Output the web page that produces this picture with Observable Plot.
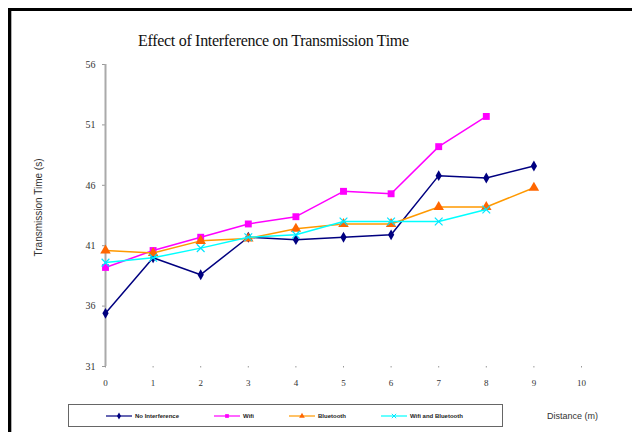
<!DOCTYPE html>
<html>
<head>
<meta charset="utf-8">
<script src="https://cdn.jsdelivr.net/npm/d3@7"></script>
<script src="https://cdn.jsdelivr.net/npm/@observablehq/plot@0.6"></script>
<style>
  html, body { margin: 0; padding: 0; background: #fff; }
  #wrap { position: relative; width: 632px; height: 432px; overflow: hidden; }
  #wrap svg.plot { position: absolute; left: 0; top: 0; }
  #frame { position: absolute; left: 8px; top: 8px; width: 640px; height: 440px;
           border-top: 3px solid #000; border-left: 3px solid #000; pointer-events: none; }
  #frame::after { content: ""; position: absolute; left: 0; top: 0; bottom: 0; width: 1px; background: #b0b0b0; }
  #title { position: absolute; left: 138px; top: 32px; font: 16px "Liberation Serif", serif; color: #111;
           white-space: nowrap; letter-spacing: -0.3px; }
  #legend { position: absolute; left: 68px; top: 404px; width: 435px; height: 23px;
            border: 1.5px solid #666; display: flex; align-items: center; gap: 35px;
            padding-left: 37px; box-sizing: border-box; }
  .item { display: flex; align-items: center; gap: 3px; font: bold 6px "Liberation Sans", Arial, sans-serif; color: #222; white-space: nowrap; }
</style>
</head>
<body>
<div id="wrap">
  <div id="title">Effect of Interference on Transmission Time</div>
  <div id="legend"></div>
  <div id="frame"></div>
</div>
<script>
// Distance from the access point (m)
const distance = [0, 1, 2, 3, 4, 5, 6, 7, 8, 9];

// Transmission time (s) for each test condition
const noInterference = [35.4, 40.0, 38.6, 41.7, 41.5, 41.7, 41.9, 46.8, 46.6, 47.6];
const wifi           = [39.2, 40.6, 41.7, 42.8, 43.4, 45.5, 45.3, 49.2, 51.7];
const bluetooth      = [40.6, 40.4, 41.4, 41.6, 42.4, 42.8, 42.8, 44.2, 44.2, 45.8];
const wifiBluetooth  = [39.6, 40.0, 40.8, 41.7, 41.9, 43.0, 43.0, 43.0, 44.0];

const seriesNames = ["No Interference", "Wifi", "Bluetooth", "Wifi and Bluetooth"];
const xTicks = [0, 1, 2, 3, 4, 5, 6, 7, 8, 9, 10];
const yTicks = [31, 36, 41, 46, 51, 56];

const seriesValues = [noInterference, wifi, bluetooth, wifiBluetooth];
const styles = [
  {line: "#000080", fill: "#000080", stroke: "none", symbol: "diamond", r: 3.3},
  {line: "#ff00ff", fill: "#ff00ff", stroke: "none", symbol: "square", r: 3.9},
  {line: "#ff9900", fill: "#ff6600", stroke: "none", symbol: "triangle", r: 3.9},
  {line: "#00ffff", fill: "none", stroke: "#00e5ff", symbol: "times", r: 3.6}
];

const rows = seriesNames.flatMap((name, i) =>
  seriesValues[i].map((v, j) => ({series: name, distance: distance[j], time: v}))
);

const seriesMarks = seriesNames.flatMap((name, i) => {
  const data = rows.filter(d => d.series === name);
  const s = styles[i];
  return [
    Plot.line(data, {x: "distance", y: "time", stroke: s.line, strokeWidth: 1.5}),
    Plot.dot(data, {x: "distance", y: "time", symbol: () => s.symbol, r: s.r,
                    fill: s.fill, stroke: s.stroke, strokeWidth: 1.2})
  ];
});

const chart = Plot.plot({
  width: 632,
  height: 432,
  marginLeft: 105,
  marginRight: 51,
  marginTop: 64,
  marginBottom: 66,
  style: {background: "transparent", overflow: "visible"},
  x: {domain: [0, 10]},
  y: {domain: [31, 56]},
  symbol: {type: "identity"},
  marks: [
    Plot.axisY(yTicks, {tickSize: 3, tickPadding: 7, stroke: "#999", fill: "#333",
                        fontSize: 10, fontFamily: "Liberation Serif, serif", label: null}),
    Plot.axisX(xTicks, {tickSize: 1.5, tickPadding: 12, stroke: "#999", fill: "#333",
                        fontSize: 9, fontFamily: "Liberation Serif, serif", label: null}),
    Plot.ruleX([0], {stroke: "#aaa", strokeWidth: 2}),
    ...seriesMarks,
    Plot.text(["Transmission Time (s)"], {frameAnchor: "left", textAnchor: "middle", rotate: -90,
                                          dx: -67, dy: -8, fontSize: 10, fill: "#333",
                                          fontFamily: "Liberation Sans, sans-serif"}),
    Plot.text(["Distance (m)"], {frameAnchor: "bottom-right", textAnchor: "middle",
                                 dx: -9, dy: 52, fontSize: 9, fill: "#333",
                                 fontFamily: "Liberation Sans, sans-serif"})
  ]
});
chart.classList.add("plot");
document.getElementById("wrap").prepend(chart);

// Legend entries: a short line sample with the series marker, then the name
const legend = document.getElementById("legend");
seriesNames.forEach((name, i) => {
  const s = styles[i];
  const item = document.createElement("div");
  item.className = "item";
  const sym = d3.symbol(
    {diamond: d3.symbolDiamond, square: d3.symbolSquare, triangle: d3.symbolTriangle, times: d3.symbolTimes}[s.symbol],
    14)();
  item.innerHTML =
    `<svg width="26" height="8" viewBox="0 0 26 8">
       <line x1="0" x2="26" y1="4" y2="4" stroke="${s.line}" stroke-width="1.2"/>
       <path d="${sym}" transform="translate(13,4)" fill="${s.fill}" stroke="${s.stroke}" stroke-width="1"/>
     </svg><span>${name}</span>`;
  legend.appendChild(item);
});
</script>
</body>
</html>
